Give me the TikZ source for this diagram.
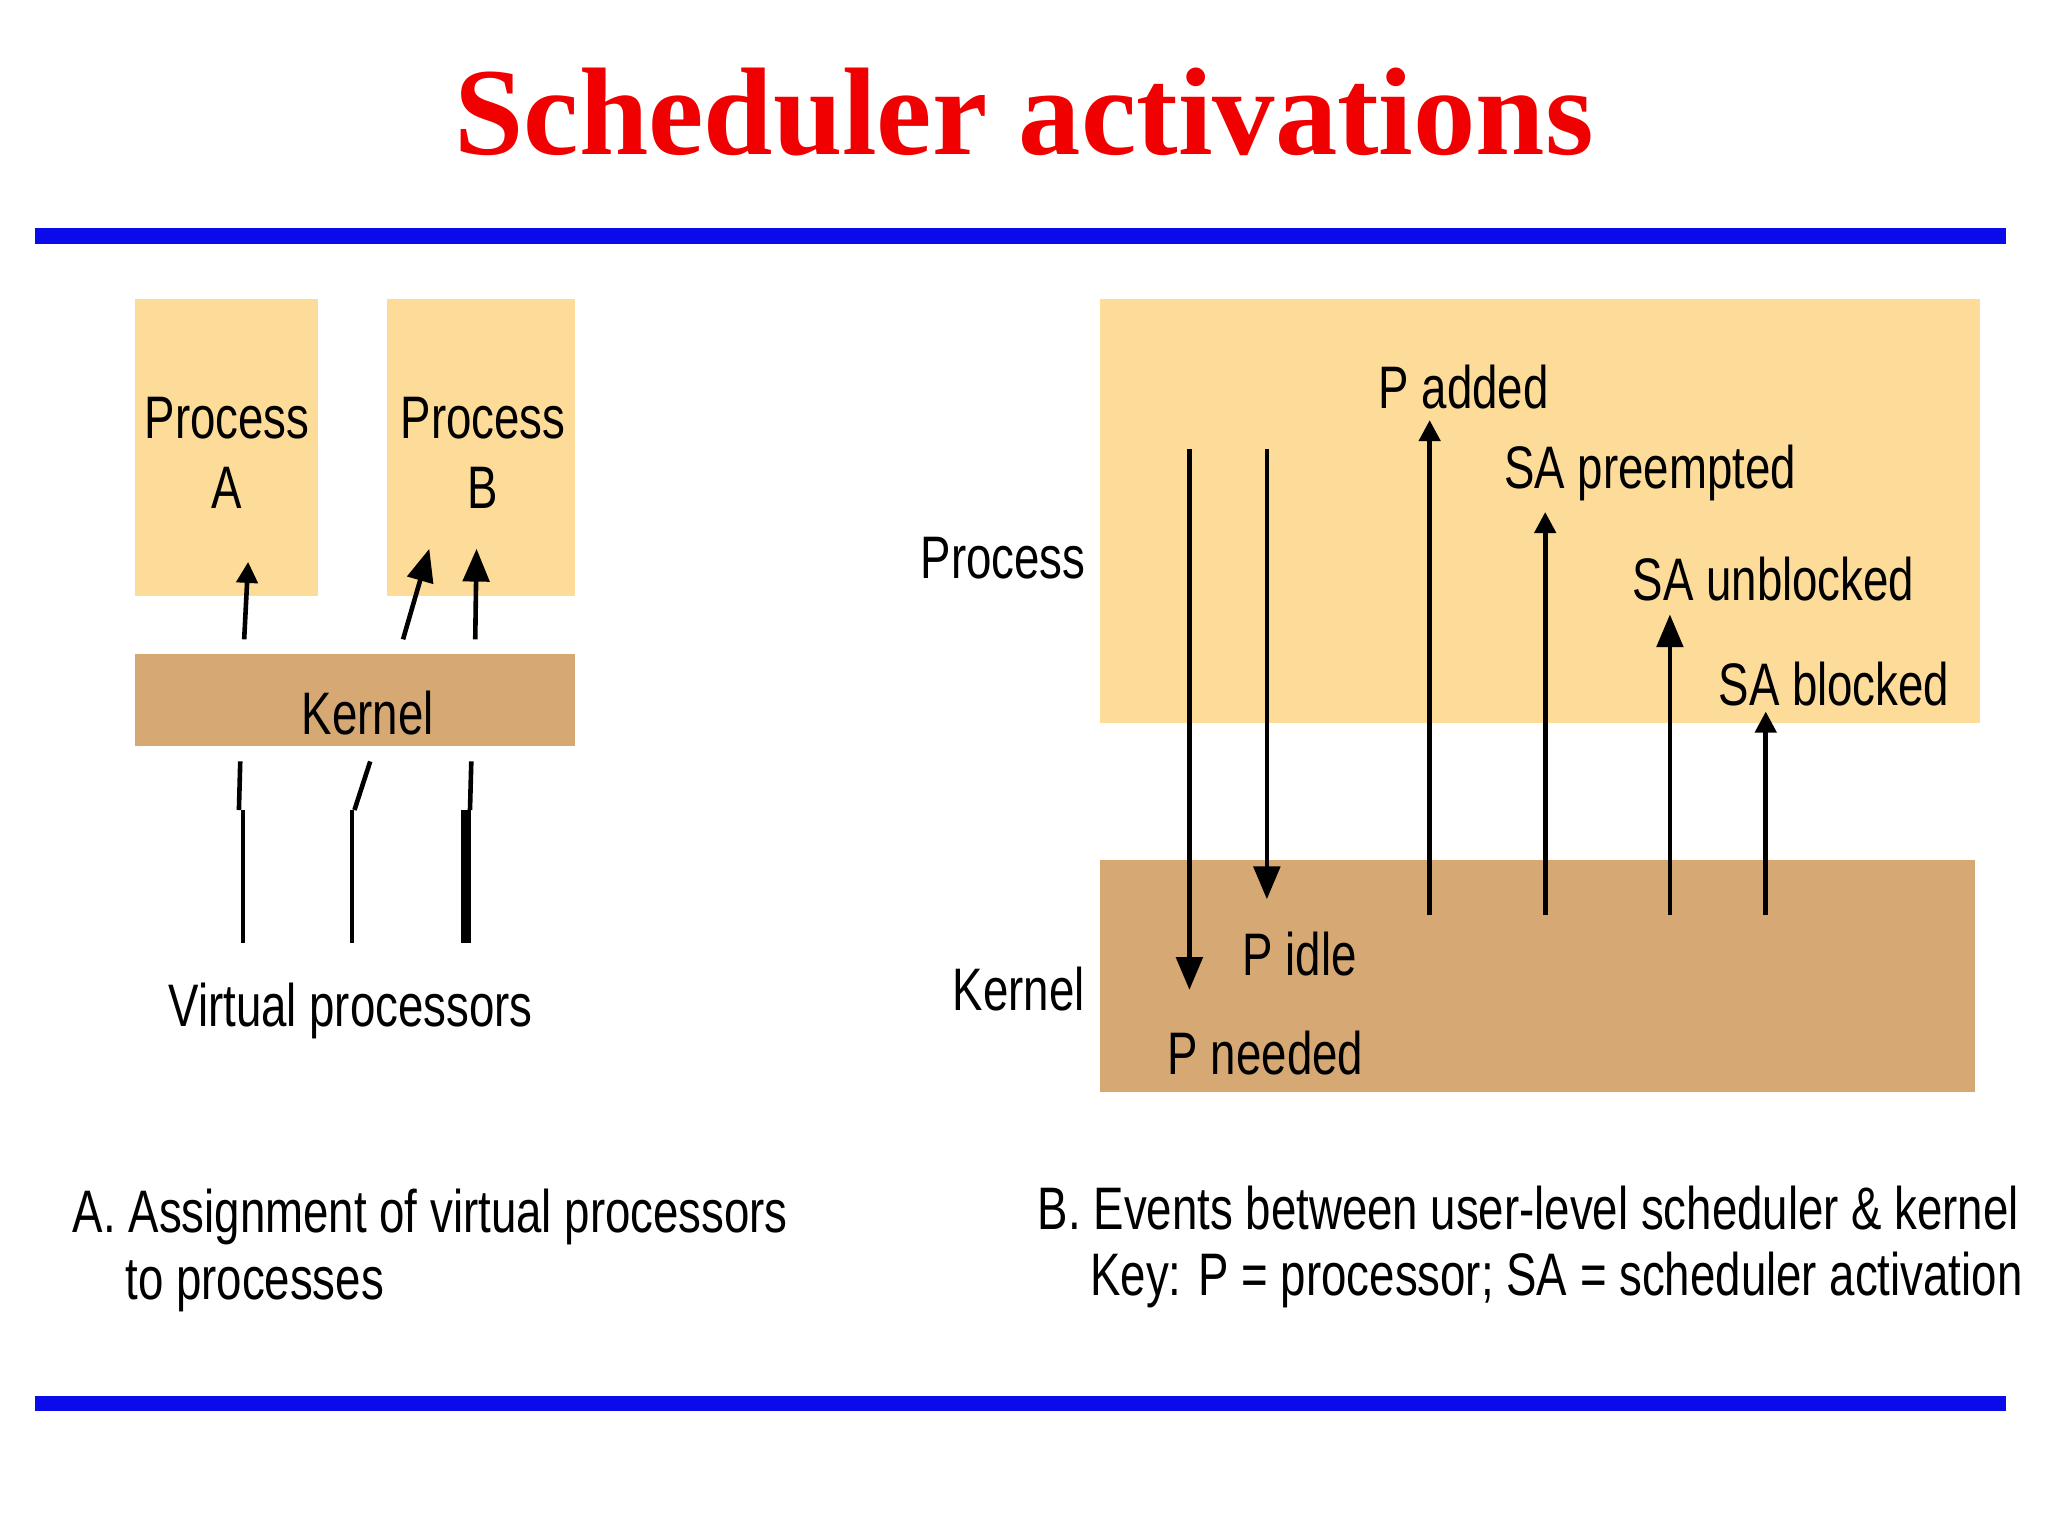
\documentclass[tikz,border=0pt]{standalone}
\usepackage{fontspec}
\setmainfont{Liberation Sans}
\newfontfamily\titlefont{Liberation Serif}
\usetikzlibrary{arrows.meta}
\definecolor{proc}{RGB}{253,219,152}
\definecolor{kern}{RGB}{214,168,115}
\definecolor{bline}{RGB}{10,10,235}
\definecolor{tred}{RGB}{240,0,0}
\begin{document}
\begin{tikzpicture}[x=0.01cm,y=-0.01cm,
  lbl/.style={font=\fontsize{13}{14}\selectfont,inner sep=0pt,xscale=0.76,transform shape},
  capt/.style={font=\fontsize{13}{14}\selectfont,inner sep=0pt,anchor=west,xscale=0.76,transform shape},
  arr/.style={line width=0.035cm,-{Triangle[width=0.2cm,length=0.25cm]}},
  sarr/.style={line width=0.035cm,-{Triangle[width=0.16cm,length=0.16cm]}},
  ln/.style={line width=0.035cm}]
\useasboundingbox (0,0) rectangle (1560,1170);
\fill[white] (0,0) rectangle (1560,1170);
\node[font=\titlefont\bfseries\fontsize{27}{30}\selectfont,text=tred] (title) at (780,85) {Scheduler activations};
\fill[bline] (27,174) rectangle (1528,186);
\fill[bline] (27,1063) rectangle (1528,1075);
% left
\fill[proc] (103,228) rectangle (242,454);
\fill[proc] (295,228) rectangle (438,454);
\fill[kern] (103,498) rectangle (438,568);
\node[lbl,align=center] (pa) at (173,345) {Process\\[1pt]A};
\node[lbl,align=center] (pb) at (368,345) {Process\\[1pt]B};
\node[lbl] (kl) at (280,543) {Kernel};
\coordinate (a1) at (186,487); \coordinate (a1e) at (189,428);
\coordinate (b1) at (307,487); \coordinate (b1e) at (327,418);
\coordinate (b2) at (362,487); \coordinate (b2e) at (363,418);
\draw[sarr] (a1) -- (a1e);
\draw[arr] (b1) -- (b1e);
\draw[arr] (b2) -- (b2e);
\coordinate (l1a) at (183,580); \coordinate (l1b) at (182,617);
\coordinate (l1c) at (185,617); \coordinate (l1d) at (185,718);
\coordinate (l2a) at (282,580); \coordinate (l2b) at (270,617);
\coordinate (l2c) at (268,617); \coordinate (l2d) at (268,718);
\coordinate (l3a) at (359,580); \coordinate (l3b) at (358,617);
\coordinate (l3c) at (355,617); \coordinate (l3d) at (355,718);
\draw[ln] (l1a) -- (l1b); \draw[ln] (l1c) -- (l1d);
\draw[ln] (l2a) -- (l2b); \draw[ln] (l2c) -- (l2d);
\draw[ln] (l3a) -- (l3b); \draw[line width=0.08cm] (l3c) -- (l3d);
\node[lbl] (vp) at (267,770) {Virtual processors};
% right
\fill[proc] (838,228) rectangle (1508,551);
\fill[kern] (838,655) rectangle (1504,832);
\node[lbl] (rp) at (764,425) {Process};
\node[lbl] (rk) at (776,753) {Kernel};
\coordinate (d1) at (906,342); \coordinate (d1e) at (906,754);
\coordinate (d2) at (965,342); \coordinate (d2e) at (965,685);
\draw[arr] (d1) -- (d1e);
\draw[arr] (d2) -- (d2e);
\coordinate (u1) at (1089,697); \coordinate (u1e) at (1089,320);
\coordinate (u2) at (1177,697); \coordinate (u2e) at (1177,390);
\coordinate (u3) at (1272,697); \coordinate (u3e) at (1272,468);
\coordinate (u4) at (1345,697); \coordinate (u4e) at (1345,542);
\draw[sarr] (u1) -- (u1e);
\draw[sarr] (u2) -- (u2e);
\draw[arr] (u3) -- (u3e);
\draw[sarr] (u4) -- (u4e);
\node[lbl] (t1) at (1115,295) {P added};
\node[lbl] (t2) at (1257,360) {SA preempted};
\node[lbl] (t3) at (1351,441) {SA unblocked};
\node[lbl] (t4) at (1397,521) {SA blocked};
\node[lbl] (t5) at (990,727) {P idle};
\node[lbl] (t6) at (964,802) {P needed};
% captions
\node[capt] (ca1) at (55,927) {A. Assignment of virtual processors};
\node[capt] (ca2) at (95,980) {to processes};
\node[capt] (cb1) at (790,920) {B. Events between user-level scheduler \& kernel};
\node[capt] (cb2) at (830,975) {Key: P = processor; SA = scheduler activation};
\end{tikzpicture}
\end{document}
